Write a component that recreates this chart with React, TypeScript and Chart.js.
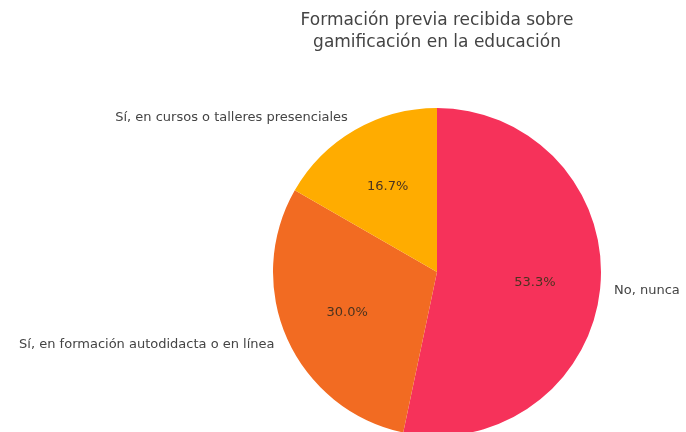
import React, { useEffect, useRef } from "react";
import { Chart, registerables } from "chart.js";

Chart.register(...registerables);

const titleLines = ["Formación previa recibida sobre", "gamificación en la educación"];
const categories = [
  "No, nunca",
  "Sí, en formación autodidacta o en línea",
  "Sí, en cursos o talleres presenciales",
];
const values = [53.3, 30.0, 16.7];
const colors = ["#F6325A", "#F26B22", "#FFAC00"];

const FONT = "'DejaVu Sans', Verdana, sans-serif";

const labelPlugin = {
  id: "pieLabels",
  afterDatasetsDraw(chart: any) {
    const ctx = chart.ctx;
    const meta = chart.getDatasetMeta(0);
    const data = chart.data.datasets[0].data as number[];
    const total = data.reduce((a: number, b: number) => a + b, 0);
    ctx.save();
    meta.data.forEach((arc: any, i: number) => {
      const { x, y, startAngle, endAngle, outerRadius } = arc.getProps(
        ["x", "y", "startAngle", "endAngle", "outerRadius"],
        true
      );
      const mid = (startAngle + endAngle) / 2;
      const cos = Math.cos(mid);
      const sin = Math.sin(mid);
      const ri = outerRadius * 0.6;
      ctx.font = `13px ${FONT}`;
      ctx.fillStyle = "#4a3320";
      ctx.textAlign = "center";
      ctx.textBaseline = "middle";
      const pct = ((data[i] / total) * 100).toFixed(1) + "%";
      ctx.fillText(pct, x + cos * ri, y + sin * ri);
      const ro = outerRadius + 14;
      ctx.fillStyle = "#444444";
      ctx.textAlign = cos >= 0 ? "left" : "right";
      ctx.fillText(chart.data.labels[i], x + cos * ro, y + sin * ro);
    });
    ctx.font = `17px ${FONT}`;
    ctx.fillStyle = "#444444";
    ctx.textAlign = "center";
    ctx.textBaseline = "middle";
    const cx = meta.data[0].x;
    titleLines.forEach((t, k) => ctx.fillText(t, cx, 21 + k * 22));
    ctx.restore();
  },
};

export default function App() {
  const ref = useRef<HTMLCanvasElement>(null);
  useEffect(() => {
    document.body.style.margin = "0";
    document.body.style.overflow = "hidden";
    const chart = new Chart(ref.current!, {
      type: "pie",
      data: {
        labels: categories,
        datasets: [
          {
            data: values,
            backgroundColor: colors,
            borderWidth: 0,
          },
        ],
      },
      options: {
        responsive: false,
        animation: false,
        radius: 164,
        layout: { padding: { left: 188, right: 0, top: 112, bottom: 0 } },
        plugins: {
          legend: { display: false },
          tooltip: { enabled: false },
          title: { display: false },
        },
      } as any,
      plugins: [labelPlugin],
    });
    return () => chart.destroy();
  }, []);
  return (
    <div style={{ width: 686, height: 432, overflow: "hidden", background: "#fff" }}>
      <canvas ref={ref} width={686} height={432} style={{ display: "block" }} />
    </div>
  );
}
